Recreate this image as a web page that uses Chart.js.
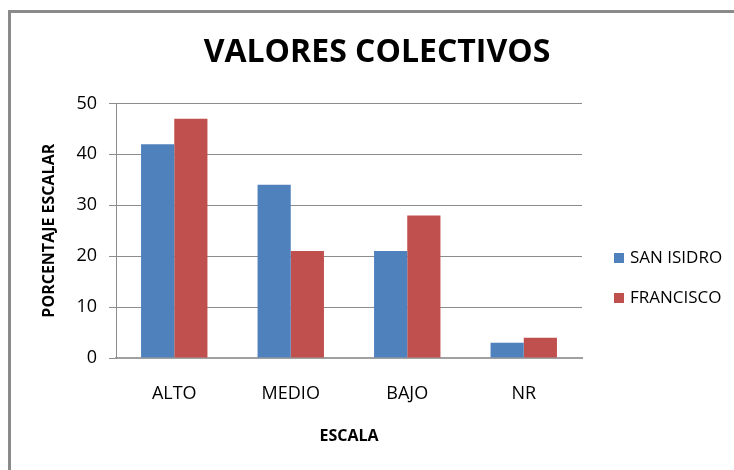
<!DOCTYPE html>
<html>
<head>
<meta charset="utf-8">
<script src="https://cdn.jsdelivr.net/npm/chart.js@4/dist/chart.umd.min.js"></script>
<style>
 body { margin: 0; background: #fff; }
 #wrap { position: relative; width: 734px; height: 470px; overflow: hidden; }
 #frame { position: absolute; left: 8px; top: 10px; width: 800px; height: 600px;
          border-top: 3px solid #8a8a8a; border-left: 3px solid #8a8a8a; }
 canvas { position: absolute; left: 0; top: 0; }
</style>
</head>
<body>
<div id="wrap">
 <div id="frame"></div>
 <canvas id="myChart" width="734" height="470"></canvas>
</div>
<script>
'use strict';

var categories = ['ALTO', 'MEDIO', 'BAJO', 'NR'];
var sanIsidro = [42, 34, 21, 3];
var francisco = [47, 21, 28, 4];
var yTicks = [0, 10, 20, 30, 40, 50];

var fontName = '"Open Sans", "DejaVu Sans", sans-serif';

// legend drawn at the right, like the original
var sideLegend = {
 id: 'sideLegend',
 afterDraw: function (chart) {
  var ctx = chart.ctx;
  ctx.save();
  ctx.font = '17px ' + fontName;
  ctx.textBaseline = 'middle';
  chart.data.datasets.forEach(function (ds, i) {
   var y = 258 + i * 40;
   ctx.fillStyle = ds.backgroundColor;
   ctx.fillRect(614, y - 5, 10, 10);
   ctx.fillStyle = '#000';
   ctx.fillText(ds.label, 630, y);
  });
  ctx.restore();
 }
};

var ctx = document.getElementById('myChart');
var myChart = new Chart(ctx, {
 type: 'bar',
 data: {
  labels: categories,
  datasets: [
   { label: 'SAN ISIDRO', data: sanIsidro, backgroundColor: '#4F81BD' },
   { label: 'FRANCISCO', data: francisco, backgroundColor: '#C0504D' }
  ]
 },
 options: {
  responsive: false,
  animation: false,
  layout: { padding: { left: 20, right: 0, top: 0, bottom: 20 } },
  datasets: { bar: { categoryPercentage: 0.57, barPercentage: 1.0, borderWidth: 0 } },
  plugins: {
   legend: { display: false },
   tooltip: { enabled: false },
   title: {
    display: true,
    text: 'VALORES COLECTIVOS',
    color: '#000',
    font: { family: fontName, size: 32, weight: 'bold' },
    padding: { top: 34, bottom: 31 }
   }
  },
  scales: {
   x: {
    grid: { display: false, drawTicks: false },
    border: { color: '#a0a0a0', width: 2 },
    ticks: { color: '#000', padding: 25, font: { family: fontName, size: 18 } },
    title: { display: true, text: 'ESCALA', color: '#000', font: { family: fontName, size: 16, weight: 'bold' } },
    afterFit: function (scale) { scale.height = 470 - 358 - 20; }
   },
   y: {
    min: 0,
    max: 50,
    afterBuildTicks: function (scale) {
     scale.ticks = yTicks.map(function (v) { return { value: v }; });
    },
    grid: { color: '#8c8c8c', tickLength: 7 },
    border: { color: '#8c8c8c' },
    ticks: { color: '#000', padding: 12, font: { family: fontName, size: 18 } },
    title: { display: true, text: 'PORCENTAJE ESCALAR', color: '#000', padding: { top: 20, bottom: 4 },
             font: { family: fontName, size: 16, weight: 'bold' } },
    afterFit: function (scale) { scale.width = 116 - 20; }
   },
   // empty axis on the right that keeps room for the legend
   side: {
    position: 'right',
    grid: { display: false, drawTicks: false },
    border: { display: false },
    ticks: { display: false },
    afterFit: function (scale) { scale.width = 734 - 582; }
   }
  }
 },
 plugins: [sideLegend]
});
</script>
</body>
</html>
